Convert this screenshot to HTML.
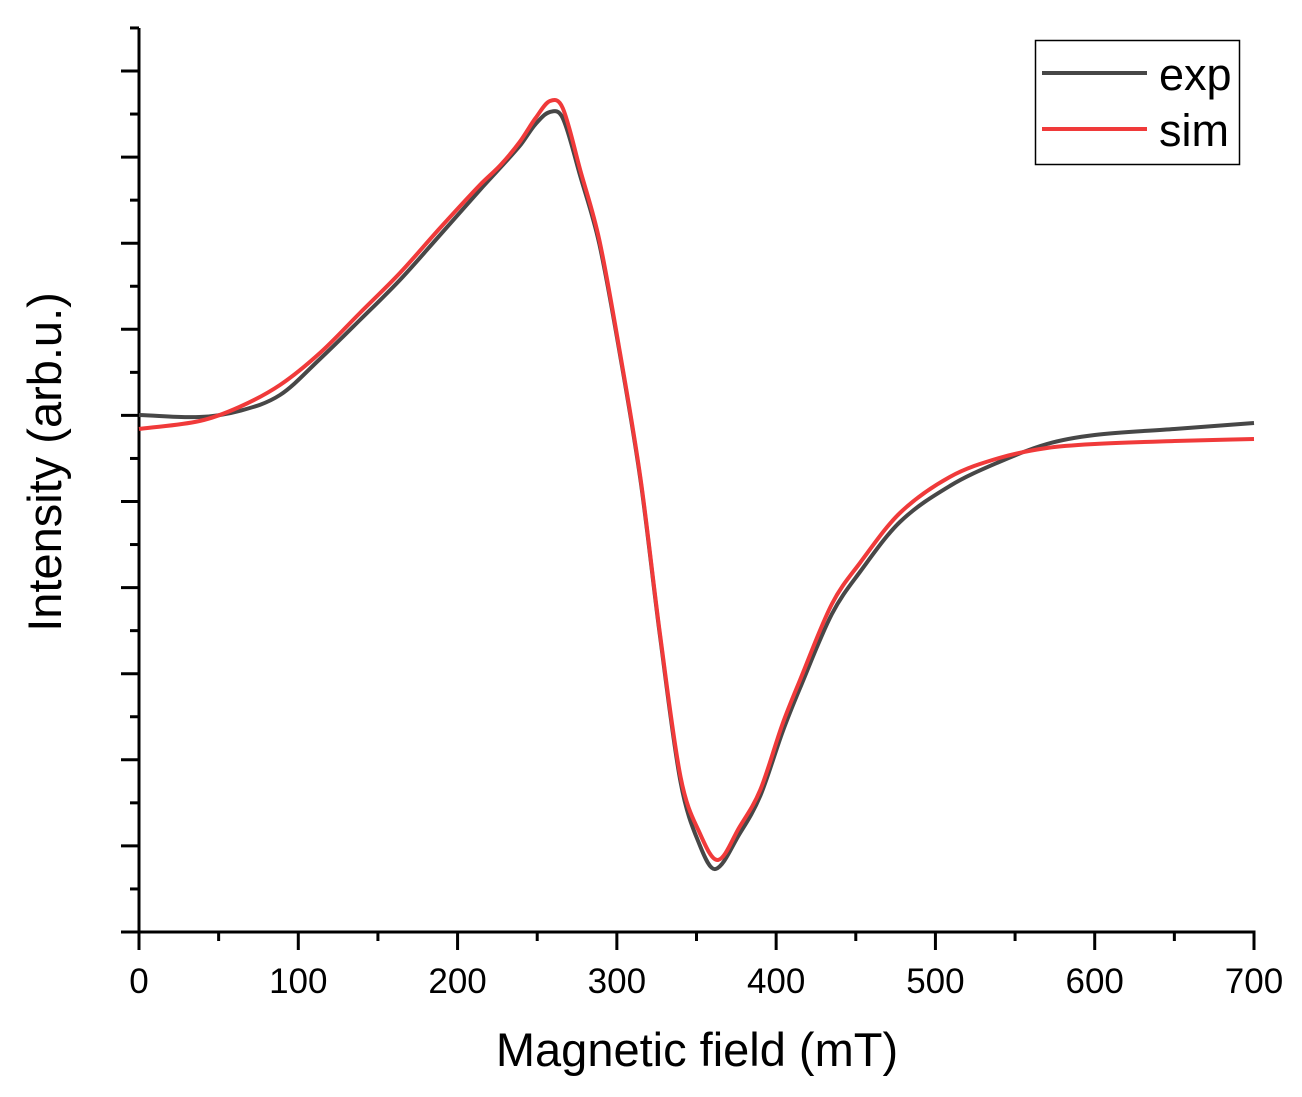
<!DOCTYPE html>
<html><head><meta charset="utf-8"><style>
html,body{margin:0;padding:0;background:#fff;}
svg{display:block;font-family:"Liberation Sans",Arial,sans-serif;}
</style></head><body>
<svg id="chart" width="1302" height="1097" viewBox="0 0 1302 1097">
<g id="axes"></g>
<g id="series"></g>
<text x="697" y="1066" font-size="47" text-anchor="middle">Magnetic field (mT)</text>
<text transform="translate(61,462) rotate(-90)" font-size="47" text-anchor="middle">Intensity (arb.u.)</text>
<g>
<rect x="1035.5" y="40.5" width="204" height="124" fill="#fff" stroke="#000" stroke-width="1.5"/>
<line x1="1042" y1="73" x2="1147" y2="73" stroke="#474747" stroke-width="4"/>
<text x="1159" y="90" font-size="45">exp</text>
<line x1="1042" y1="129" x2="1147" y2="129" stroke="#f03a3a" stroke-width="4"/>
<text x="1159" y="146" font-size="45">sim</text>
</g>
</svg>
<script>
const xTicks=[0,100,200,300,400,500,600,700];
const expX=[0,38,63,88.5,113.6,138.7,163.8,189,214,239,249,258,266,277,289,302,315,327,340,352,362,377,390,404,415,435,452.6,477.7,509,540,570,600,650,700];
const expY=[517,515,521,537,573,612,652,697,742,786,808,820,814,756,688,577,450,297,150,87,63,98,136,200,244,318,360,410,446,470,488,497,503,509];
const simX=[0,38,63,88.5,113.6,138.7,163.8,189,214,227,239,249,258,266,277,289,302,315,327,340,352,363.5,377,390,404,415,435,452.6,477.7,509,540,570,600,650,700];
const simY=[503,511,525,547,579,619,659,704,747,767,790,814,831,824,762,692,579,452,299,155,99,72,105,142,208,252,328,369,419,455,474,484,488,491,493];
const X0=139,X1=1254,Y0=932,Y1=28,xMax=700,yMax=904;
const sx=v=>X0+(X1-X0)*v/xMax;
const sy=v=>Y0-(Y0-Y1)*v/yMax;
const NS="http://www.w3.org/2000/svg";
const axes=document.getElementById('axes');
function ln(x1,y1,x2,y2,name){const l=document.createElementNS(NS,'line');
l.setAttribute('x1',x1);l.setAttribute('y1',y1);l.setAttribute('x2',x2);l.setAttribute('y2',y2);
l.setAttribute('stroke','#000');l.setAttribute('stroke-width','3');


axes.appendChild(l);return l;}
ln(X0,Y1,X0,Y0+1.5,'y-axis-line');
ln(121,Y0,X1+1.5,Y0,'x-axis-line');
const step=(Y0-71)/10;
for(let i=0;i<=21;i++){const y=Y0-i*step/2;if(y<Y1-1)break;const major=i%2==0;
ln(major?121:130,y,X0,y,major?'y-major-tick':'y-minor-tick');}
for(let v=0;v<=xMax;v+=50){const x=sx(v);const major=v%100==0;
ln(x,Y0,x,major?950:941,major?'x-major-tick':'x-minor-tick');}
xTicks.forEach(v=>{const t=document.createElementNS(NS,'text');
t.setAttribute('x',sx(v));t.setAttribute('y',993);t.setAttribute('font-size','35');
t.setAttribute('text-anchor','middle');t.textContent=v;


axes.appendChild(t);});
const series=document.getElementById('series');
function path(xs,ys,color,name){
const pts=xs.map((x,i)=>[sx(x),sy(ys[i])]);
const n=pts.length;
const m=pts.map((p,i)=>{const a=pts[Math.max(0,i-1)],b=pts[Math.min(n-1,i+1)];return (b[1]-a[1])/(b[0]-a[0]);});
let d='M'+pts[0][0]+','+pts[0][1];
for(let i=0;i<n-1;i++){const p1=pts[i],p2=pts[i+1],dx=(p2[0]-p1[0])/3;
d+=' C'+(p1[0]+dx)+','+(p1[1]+m[i]*dx)+' '+(p2[0]-dx)+','+(p2[1]-m[i+1]*dx)+' '+p2[0]+','+p2[1];}
const p=document.createElementNS(NS,'path');p.setAttribute('d',d);p.setAttribute('fill','none');
p.setAttribute('stroke',color);p.setAttribute('stroke-width','4');p.setAttribute('stroke-linejoin','round');


series.appendChild(p);}
path(expX,expY,'#474747','exp-line');
path(simX,simY,'#f03a3a','sim-line');
</script>
</body></html>
